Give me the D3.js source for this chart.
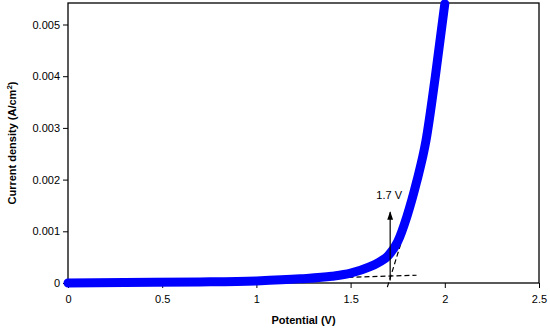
<!DOCTYPE html>
<html><head><meta charset="utf-8">
<script src="https://cdn.jsdelivr.net/npm/d3@7"></script>
<style>body{margin:0;background:#fff}svg{display:block}text{font-family:"Liberation Sans",Arial,sans-serif}</style>
</head><body><svg id="c" width="550" height="328"></svg>
<script>
const potential = [0, 0.3, 0.7, 1.0, 1.234, 1.4, 1.5, 1.6, 1.65, 1.7, 1.75, 1.8, 1.85, 1.9, 1.95, 2.0];
const current = [0, 0.00001, 0.00002, 0.00004, 0.00008, 0.00013, 0.00019, 0.00031, 0.00040, 0.00053, 0.00080, 0.00130, 0.00195, 0.00275, 0.00400, 0.0054];
const xTicks = [0, 0.5, 1, 1.5, 2, 2.5];
const yTicks = [0, 0.001, 0.002, 0.003, 0.004, 0.005];
const tangentLow = [[1.234, 0.00008], [1.85, 0.00015]];
const tangentSteep = [[1.695, -0.00008], [1.77, 0.0008]];
const onsetV = 1.71, arrowFrom = 0.00005, arrowTo = 0.00137;
const onsetLabel = "1.7 V";

const svg = d3.select("#c");
const L = 68, R = 539, T = 3, B = 283;
const x = d3.scaleLinear().domain([0, 2.5]).range([L, R]);
const y = d3.scaleLinear().domain([0, 0.005416]).range([B, T]);

svg.append("defs").append("marker").attr("id","ah").attr("viewBox","0 0 10 10")
  .attr("refX",9).attr("refY",5).attr("markerWidth",7).attr("markerHeight",7).attr("orient","auto")
  .append("path").attr("d","M0,1.5L10,5L0,8.5Z").attr("fill","#000");

const xa = svg.append("g").attr("transform",`translate(0,${B})`)
  .call(d3.axisBottom(x).tickValues(xTicks).tickSize(5).tickFormat(d => String(d)));
const ya = svg.append("g").attr("transform",`translate(${L},0)`)
  .call(d3.axisLeft(y).tickValues(yTicks).tickSize(5).tickFormat(d => d === 0 ? "0" : d3.format(".3f")(d)));
[xa, ya].forEach(g => {
  g.select(".domain").remove();
  g.selectAll("line").attr("stroke","#000").attr("stroke-width",1);
  g.selectAll("text").attr("font-size","11px").attr("fill","#000");
});
xa.selectAll("text").attr("dy","1.05em");
ya.selectAll("text").attr("x",-8);

svg.append("rect").attr("x",L).attr("y",T).attr("width",R-L).attr("height",B-T)
  .attr("fill","none").attr("stroke","#000").attr("stroke-width",1.3);

const dl = d3.line().x(d => x(d[0])).y(d => y(d[1]));
[tangentLow, tangentSteep].forEach(t => svg.append("path").attr("d", dl(t))
  .attr("fill","none").attr("stroke","#000").attr("stroke-width",1.2).attr("stroke-dasharray","5,3"));

const pts = potential.map((p,i) => [p, current[i]]);
svg.append("path").attr("d", d3.line().x(d => x(d[0])).y(d => y(d[1])).curve(d3.curveMonotoneX)(pts))
  .attr("fill","none").attr("stroke","#0000ff").attr("stroke-width",9)
  .attr("stroke-linecap","round").attr("stroke-linejoin","round");

svg.append("line").attr("x1",x(onsetV)).attr("x2",x(onsetV)).attr("y1",y(arrowFrom)).attr("y2",y(arrowTo))
  .attr("stroke","#000").attr("stroke-width",1.2).attr("marker-end","url(#ah)");
svg.append("text").attr("x",x(onsetV)-1).attr("y",y(arrowTo)-13).attr("text-anchor","middle")
  .attr("font-size","11px").text(onsetLabel);

svg.append("text").attr("x",(L+R)/2+0).attr("y",324).attr("text-anchor","middle")
  .attr("font-size","11px").attr("font-weight","bold").text("Potential (V)");
const yt = svg.append("text").attr("transform",`translate(16,${(T+B)/2}) rotate(-90)`)
  .attr("text-anchor","middle").attr("font-size","11px").attr("font-weight","bold");
yt.append("tspan").text("Current density (A/cm");
yt.append("tspan").attr("font-size","8px").attr("dy","-4").text("2");
yt.append("tspan").attr("dy","4").text(")");
</script></body></html>
